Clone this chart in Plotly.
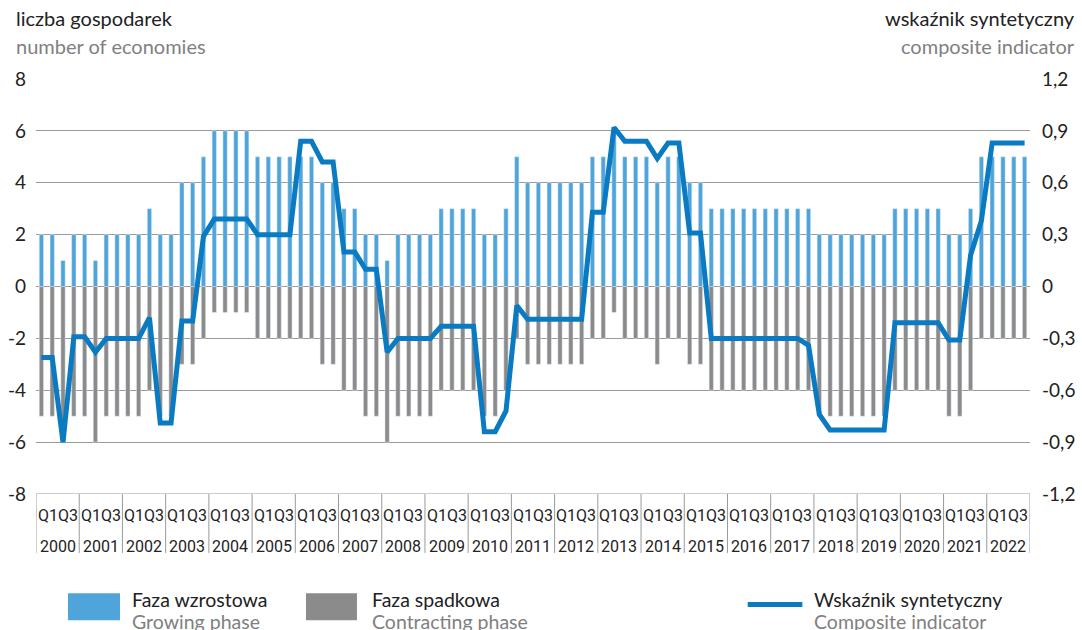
import plotly.graph_objects as go

years = [str(y) for y in range(2000, 2023)]
quarters = ["Q1", "Q2", "Q3", "Q4"]
quarter_labels = [f"{y} {q}" for y in years for q in quarters]

growing = [2, 2, 1, 2, 2, 1, 2, 2, 2, 2, 3, 2, 2, 4, 4, 5,
           6, 6, 6, 6, 5, 5, 5, 5, 5, 5, 4, 4, 3, 3, 2, 2,
           1, 2, 2, 2, 2, 3, 3, 3, 3, 2, 2, 3, 5, 4, 4, 4,
           4, 4, 4, 5, 5, 6, 5, 5, 5, 4, 5, 5, 4, 4, 3, 3,
           3, 3, 3, 3, 3, 3, 3, 3, 2, 2, 2, 2, 2, 2, 2, 3,
           3, 3, 3, 3, 2, 2, 3, 5, 5, 5, 5, 5]
contracting = [-5, -5, -6, -5, -5, -6, -5, -5, -5, -5, -4, -5, -5, -3, -3, -2,
               -1, -1, -1, -1, -2, -2, -2, -2, -2, -2, -3, -3, -4, -4, -5, -5,
               -6, -5, -5, -5, -5, -4, -4, -4, -4, -5, -5, -4, -2, -3, -3, -3,
               -3, -3, -3, -2, -2, -1, -2, -2, -2, -3, -2, -2, -3, -3, -4, -4,
               -4, -4, -4, -4, -4, -4, -4, -4, -5, -5, -5, -5, -5, -5, -5, -4,
               -4, -4, -4, -4, -5, -5, -4, -2, -2, -2, -2, -2]
composite = [-0.41, -0.41, -0.90, -0.29, -0.29, -0.38, -0.30, -0.30, -0.30, -0.30, -0.18, -0.79, -0.79, -0.20, -0.20, 0.29,
             0.39, 0.39, 0.39, 0.39, 0.30, 0.30, 0.30, 0.30, 0.84, 0.84, 0.72, 0.72, 0.20, 0.20, 0.10, 0.10,
             -0.38, -0.30, -0.30, -0.30, -0.30, -0.23, -0.23, -0.23, -0.23, -0.84, -0.84, -0.72, -0.11, -0.19, -0.19, -0.19,
             -0.19, -0.19, -0.19, 0.43, 0.43, 0.92, 0.84, 0.84, 0.84, 0.74, 0.83, 0.83, 0.31, 0.31, -0.30, -0.30,
             -0.30, -0.30, -0.30, -0.30, -0.30, -0.30, -0.30, -0.34, -0.74, -0.83, -0.83, -0.83, -0.83, -0.83, -0.83, -0.21,
             -0.21, -0.21, -0.21, -0.21, -0.31, -0.31, 0.18, 0.38, 0.83, 0.83, 0.83, 0.83]

left_ticks = [8, 6, 4, 2, 0, -2, -4, -6, -8]
left_ticktext = ["8", "6", "4", "2", "0", "-2", "-4", "-6", "-8"]
right_ticks = [1.2, 0.9, 0.6, 0.3, 0, -0.3, -0.6, -0.9, -1.2]
right_ticktext = ["1,2", "0,9", "0,6", "0,3", "0", "-0,3", "-0,6", "-0,9", "-1,2"]
sub_label = "Q1Q3"

BLUE_BAR = "#4fa5d9"
GREY_BAR = "#8b8b8b"
LINE = "#0a7bc2"
GRID = "#9a9a9a"
TXT = "#222222"
SUB = "#808080"
FONT = "Lato, Open Sans, sans-serif"
NARROW = "Roboto, Lato, sans-serif"

x = list(range(len(quarter_labels)))

fig = go.Figure()
fig.add_trace(go.Bar(x=x, y=growing, marker_color=BLUE_BAR, width=0.4,
                     name="Faza wzrostowa", showlegend=False))
fig.add_trace(go.Bar(x=x, y=contracting, marker_color=GREY_BAR, width=0.4,
                     name="Faza spadkowa", showlegend=False))
fig.add_trace(go.Scatter(x=x, y=composite, yaxis="y2", mode="lines",
                         line=dict(color=LINE, width=5), name="Wskaźnik syntetyczny",
                         showlegend=False))

n = len(x)
fig.update_layout(
    width=1082, height=630,
    margin=dict(l=36, r=52, t=79, b=136),
    plot_bgcolor="white", paper_bgcolor="white",
    barmode="overlay",
    font=dict(family=FONT, size=18, color=TXT),
    xaxis=dict(range=[-0.5, n - 0.5], showticklabels=False, showgrid=False,
               zeroline=False, ticks="", fixedrange=True, automargin=False),
    yaxis=dict(range=[-8, 8], tickvals=left_ticks, ticktext=left_ticktext,
               showgrid=True, gridcolor=GRID, gridwidth=1, zeroline=True,
               zerolinecolor=GRID, zerolinewidth=1, ticks="", automargin=False,
               ticklabelstandoff=9, tickfont=dict(size=19, color=TXT)),
    yaxis2=dict(range=[-1.2, 1.2], tickvals=right_ticks, ticktext=right_ticktext,
                overlaying="y", side="right", showgrid=False, zeroline=False,
                ticks="", ticklabelstandoff=11, automargin=False,
                tickfont=dict(size=19, color=TXT)),
)

shapes = []
shapes.append(dict(type="line", xref="x", yref="y", x0=-0.5, x1=n - 0.5, y0=-8, y1=-8,
                   line=dict(color=GRID, width=1)))
for k in range(len(years) + 1):
    xv = 4 * k - 0.5
    shapes.append(dict(type="line", xref="x", yref="paper", x0=xv, x1=xv, y0=0, y1=-0.142,
                       line=dict(color=GRID, width=1)))
fig.update_layout(shapes=shapes)

ann = []
for k, yr in enumerate(years):
    xc = 4 * k + 1.5
    ann.append(dict(x=xc, y=-0.052, xref="x", yref="paper", text=sub_label, showarrow=False,
                    font=dict(family=NARROW, size=16, color=TXT), xanchor="center", yanchor="middle"))
    ann.append(dict(x=xc, y=-0.126, xref="x", yref="paper", text=yr, showarrow=False,
                    font=dict(family=NARROW, size=16, color=TXT), xanchor="center", yanchor="middle"))

ann.append(dict(x=-0.022, y=1.148, xref="paper", yref="paper", text="liczba gospodarek",
                showarrow=False, xanchor="left", yanchor="middle", font=dict(size=20, color=TXT)))
ann.append(dict(x=-0.022, y=1.08, xref="paper", yref="paper", text="number of economies",
                showarrow=False, xanchor="left", yanchor="middle", font=dict(size=20, color=SUB)))
ann.append(dict(x=1.047, y=1.148, xref="paper", yref="paper", text="wskaźnik syntetyczny",
                showarrow=False, xanchor="right", yanchor="middle", font=dict(size=20, color=TXT)))
ann.append(dict(x=1.047, y=1.08, xref="paper", yref="paper", text="composite indicator",
                showarrow=False, xanchor="right", yanchor="middle", font=dict(size=20, color=SUB)))

legend_shapes = [
    dict(type="rect", xref="paper", yref="paper", x0=0.0322, x1=0.0845, y0=-0.239, y1=-0.304,
         fillcolor=BLUE_BAR, line=dict(width=0)),
    dict(type="rect", xref="paper", yref="paper", x0=0.2716, x1=0.3229, y0=-0.239, y1=-0.304,
         fillcolor=GREY_BAR, line=dict(width=0)),
    dict(type="line", xref="paper", yref="paper", x0=0.716, x1=0.771, y0=-0.266, y1=-0.266,
         line=dict(color=LINE, width=5)),
]
for s in legend_shapes:
    fig.add_shape(**s)

legend_items = [(0.0946, "Faza wzrostowa", "Growing phase"),
                (0.336, "Faza spadkowa", "Contracting phase"),
                (0.781, "Wskaźnik syntetyczny", "Composite indicator")]
for xp, pl, en in legend_items:
    ann.append(dict(x=xp, y=-0.255, xref="paper", yref="paper", text=pl, showarrow=False,
                    xanchor="left", yanchor="middle", font=dict(size=19.5, color=TXT)))
    ann.append(dict(x=xp, y=-0.308, xref="paper", yref="paper", text=en, showarrow=False,
                    xanchor="left", yanchor="middle", font=dict(size=19.5, color=SUB)))

fig.update_layout(annotations=ann)
fig.write_html("out.html", config={"displayModeBar": False},
               post_script="document.body.style.margin='0';")
